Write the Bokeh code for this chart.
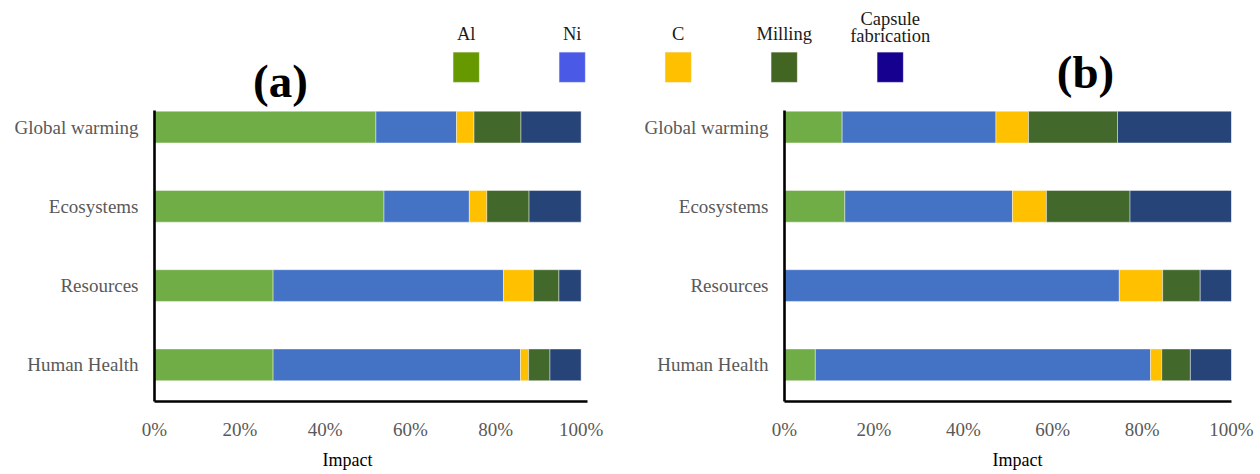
from bokeh.plotting import figure
from bokeh.models import (Range1d, FixedTicker, PrintfTickFormatter, Label,
                          BoxAnnotation, ColumnDataSource, Title)
from bokeh.layouts import column, row
from bokeh.embed import file_html
from bokeh.resources import INLINE

# ---------------- data ----------------
categories = ["Global warming", "Ecosystems", "Resources", "Human Health"]
components = ["Al", "Ni", "C", "Milling", "Capsule fabrication"]
x_ticks = [0, 20, 40, 60, 80, 100]

# panel (a) shares, % of impact
a_al = [51.9, 53.8, 27.8, 27.8]
a_ni = [18.9, 20.0, 54.0, 58.0]
a_c = [4.1, 4.1, 7.0, 1.9]
a_milling = [11.0, 9.9, 6.0, 5.0]
a_capsule = [14.1, 12.2, 5.2, 7.3]

# panel (b) shares, % of impact
b_al = [12.9, 13.5, 0.0, 6.9]
b_ni = [34.4, 37.5, 74.9, 75.0]
b_c = [7.3, 7.6, 9.7, 2.5]
b_milling = [19.9, 18.7, 8.4, 6.4]
b_capsule = [25.5, 22.7, 7.0, 9.2]

bar_colors = ["#70AD47", "#4472C4", "#FFC000", "#43682B", "#264478"]
legend_colors = ["#669900", "#4B5AE6", "#FFC000", "#436522", "#150090"]

SERIF = "Liberation Serif"
GRAY = "#595959"

HEAD_H = 110
y_pos = [len(categories) - 1 - i for i in range(len(categories))]
Y_START, Y_END = -0.4625, 3.209


def make_panel(values, border_left, frame_w, border_right, x_end,
               impact_offset):
    data = {"y": y_pos}
    for name, vals in zip(components, values):
        data[name] = vals
    src = ColumnDataSource(data)
    width = border_left + frame_w + border_right
    p = figure(width=width, height=474 - HEAD_H,
               x_range=Range1d(0, x_end), y_range=Range1d(Y_START, Y_END),
               output_backend="svg", toolbar_location=None,
               min_border_left=border_left, min_border_right=border_right,
               min_border_top=0, min_border_bottom=70)
    p.hbar_stack(components, y="y", height=0.4, color=bar_colors,
                 line_color="white", line_width=0.6, line_alpha=0.7,
                 source=src)
    p.outline_line_color = None
    p.xgrid.grid_line_color = None
    p.ygrid.grid_line_color = None
    p.background_fill_color = "white"
    p.border_fill_color = "white"

    xa = p.xaxis[0]
    xa.ticker = FixedTicker(ticks=x_ticks)
    xa.formatter = PrintfTickFormatter(format="%d%%")
    xa.axis_line_color = "black"
    xa.axis_line_width = 2.6
    xa.major_tick_line_color = None
    xa.minor_tick_line_color = None
    xa.major_tick_out = 0
    xa.major_tick_in = 0
    xa.major_label_standoff = 17
    xa.major_label_text_font = SERIF
    xa.major_label_text_font_size = "19px"
    xa.major_label_text_color = GRAY

    ya = p.yaxis[0]
    ya.ticker = FixedTicker(ticks=y_pos)
    ya.major_label_overrides = {y: c for y, c in zip(y_pos, categories)}
    ya.axis_line_color = "black"
    ya.axis_line_width = 2.6
    ya.major_tick_line_color = None
    ya.minor_tick_line_color = None
    ya.major_tick_out = 0
    ya.major_tick_in = 0
    ya.major_label_standoff = 16
    ya.major_label_text_font = SERIF
    ya.major_label_text_font_size = "19px"
    ya.major_label_text_color = GRAY

    p.add_layout(Title(text="Impact", align="left", offset=impact_offset,
                       text_font=SERIF, text_font_size="18px",
                       text_font_style="normal", text_color="black"),
                 "below")
    return p


pa = make_panel([a_al, a_ni, a_c, a_milling, a_capsule],
                154, 433, 43, 101.5, 168)
pb = make_panel([b_al, b_ni, b_c, b_milling, b_capsule],
                154, 447, 29, 100.0, 208)

# ---------------- header with legend and panel letters ----------------
top = figure(width=1260, height=HEAD_H, x_range=Range1d(0, 1260),
             y_range=Range1d(0, HEAD_H), output_backend="svg",
             toolbar_location=None, x_axis_location=None,
             y_axis_location=None, min_border=0)
top.outline_line_color = None
top.xgrid.grid_line_color = None
top.ygrid.grid_line_color = None

sw_x0, sw_step, sw_w = 465.7, 106.0, 26.0
for i, (name, col) in enumerate(zip(components, legend_colors)):
    cx = sw_x0 + i * sw_step
    top.add_layout(BoxAnnotation(left=cx - sw_w / 2, right=cx + sw_w / 2,
                                 bottom=28.3, top=58.3, fill_color=col,
                                 fill_alpha=1.0, line_color="#dddddd",
                                 line_width=0.8))
    words = name.split(" ")
    if len(words) == 1:
        top.add_layout(Label(x=cx, y=77, text=name, text_align="center",
                             text_baseline="middle", text_font=SERIF,
                             text_font_size="18.5px", text_color="#1a1a1a"))
    else:
        for j, w in enumerate(words):
            top.add_layout(Label(x=cx, y=91.5 - 17 * j, text=w,
                                 text_align="center",
                                 text_baseline="middle", text_font=SERIF,
                                 text_font_size="18.5px",
                                 text_color="#1a1a1a"))

top.add_layout(Label(x=280, y=30, text="(a)", text_align="center",
                     text_baseline="middle", text_font=SERIF,
                     text_font_size="47px", text_font_style="bold",
                     text_color="black"))
top.add_layout(Label(x=1085, y=39, text="(b)", text_align="center",
                     text_baseline="middle", text_font=SERIF,
                     text_font_size="47px", text_font_style="bold",
                     text_color="black"))

layout = column(top, row(pa, pb))
open("out.html", "w").write(file_html(layout, INLINE))
